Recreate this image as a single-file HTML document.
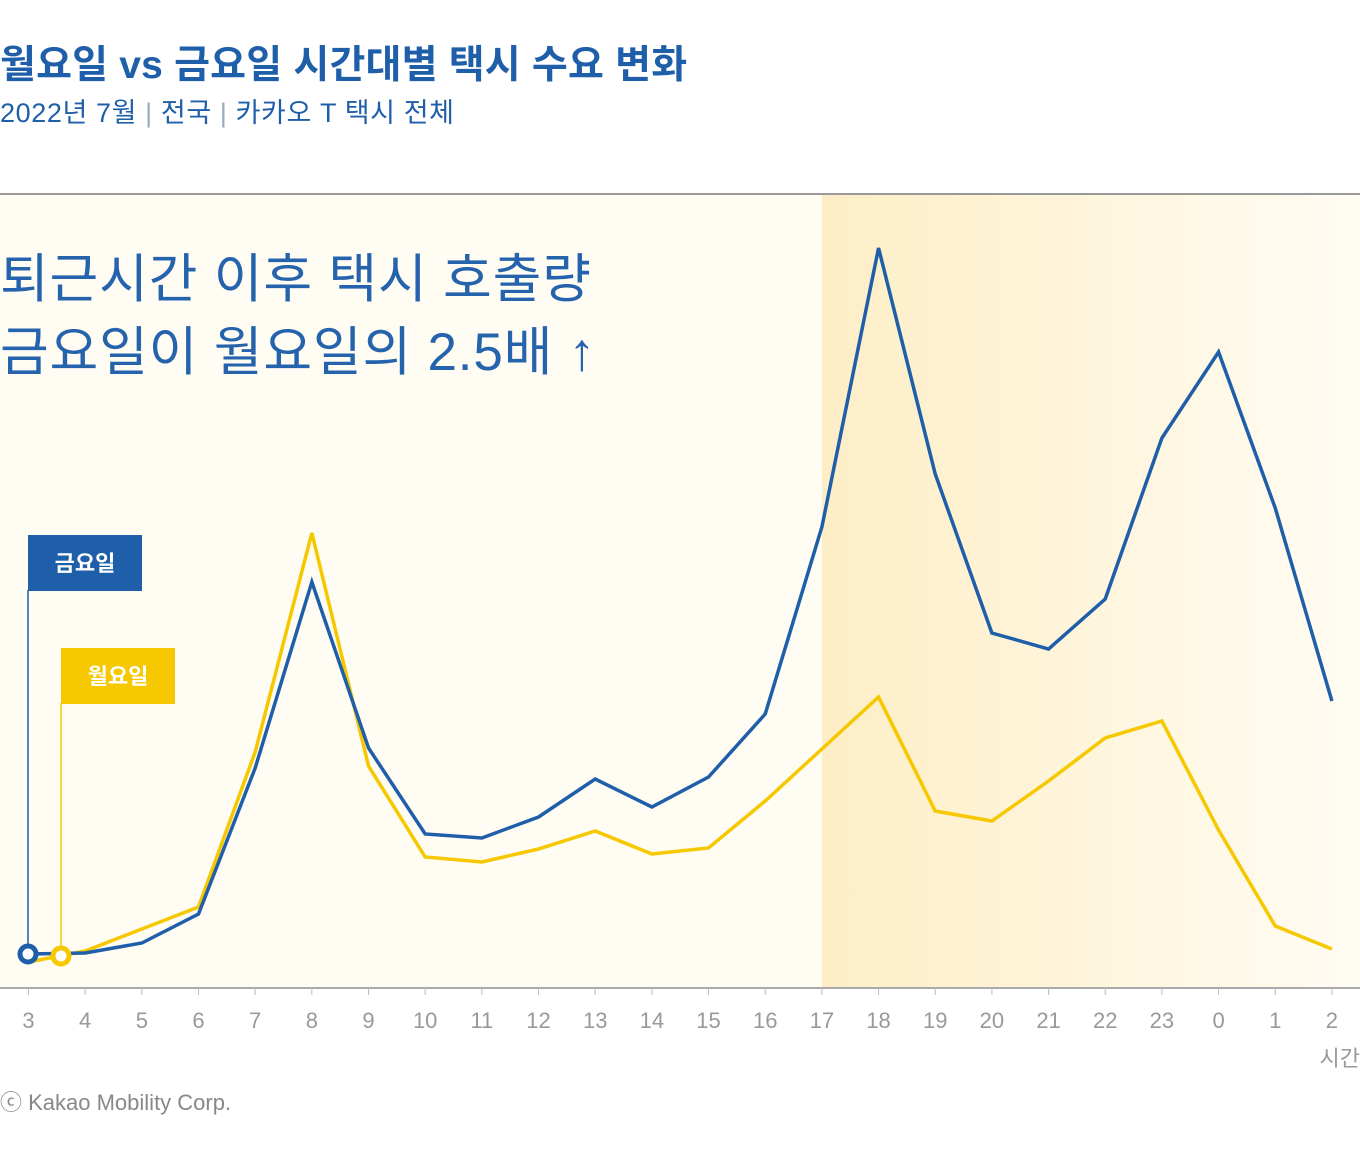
<!DOCTYPE html>
<html><head><meta charset="utf-8">
<style>
body{margin:0;width:1360px;height:1156px;background:#fff;overflow:hidden;font-family:"Liberation Sans","Noto Sans CJK KR",sans-serif;}
svg text{font-family:"Liberation Sans","Noto Sans CJK KR",sans-serif;}
</style></head><body>
<svg id="chart" width="1360" height="1156">
<defs>
<linearGradient id="hl" x1="0" x2="1" y1="0" y2="0">
<stop offset="0" stop-color="#fdeec6"/><stop offset="1" stop-color="#fffcf3"/>
</linearGradient>
</defs>
<text x="0" y="78" font-size="39" font-weight="bold" fill="#1f5ea8" letter-spacing="0.2">월요일 vs 금요일 시간대별 택시 수요 변화</text>
<text x="0" y="122" font-size="27" fill="#1f5ea8" letter-spacing="0.6">2022년 7월 <tspan fill="#9ab">|</tspan> 전국 <tspan fill="#9ab">|</tspan> 카카오 T 택시 전체</text>
<rect x="0" y="194" width="1360" height="794" fill="#fffcf3"/>
<rect x="822" y="195" width="538" height="793" fill="url(#hl)"/>
<line x1="0" y1="194" x2="1360" y2="194" stroke="#999" stroke-width="2"/>
<line x1="0" y1="988" x2="1360" y2="988" stroke="#aaa" stroke-width="2"/>
<text x="0" y="297" font-size="53" fill="#2563ad" letter-spacing="0.8">퇴근시간 이후 택시 호출량</text>
<text x="0" y="370" font-size="53" fill="#2563ad" letter-spacing="0.8">금요일이 월요일의 2.5배 ↑</text>
<g id="ticks"></g>
<text x="1360" y="1066" font-size="22" fill="#999" text-anchor="end">시간</text>
<text x="0" y="1110" font-size="22" fill="#888">ⓒ Kakao Mobility Corp.</text>
<g id="series"></g>
<line x1="28" y1="590" x2="28" y2="954" stroke="#1f5ea8" stroke-width="1.5"/>
<rect x="28" y="535" width="114" height="56" fill="#1f5ea8"/>
<text x="85" y="571" font-size="22" font-weight="bold" fill="#fff" text-anchor="middle">금요일</text>
<line x1="61" y1="703" x2="61" y2="956" stroke="#f5c800" stroke-width="1.5"/>
<rect x="61" y="648" width="114" height="56" fill="#f5c800"/>
<text x="118" y="684" font-size="22" font-weight="bold" fill="#fff" text-anchor="middle">월요일</text>
<circle cx="28" cy="954" r="8" fill="#fff" stroke="#1f5ea8" stroke-width="5"/>
<circle cx="61" cy="956" r="8" fill="#fff" stroke="#f5c800" stroke-width="5"/>
</svg>
<script>
const hours=["3","4","5","6","7","8","9","10","11","12","13","14","15","16","17","18","19","20","21","22","23","0","1","2"];
const friday=[34,35,45,74,220,406,240,154,150,171,209,181,211,274,461,740,514,355,339,389,550,636,480,287];
const monday=[26,37,59,81,236,455,222,131,126,139,157,134,140,187,239,291,177,167,207,250,267,158,62,39];
const NS="http://www.w3.org/2000/svg";
const xs=i=>28.5+i*56.67;
const ys=v=>988-v;
const tg=document.getElementById('ticks');
hours.forEach((h,i)=>{
 const l=document.createElementNS(NS,'line');
 l.setAttribute('x1',xs(i));l.setAttribute('x2',xs(i));l.setAttribute('y1',988);l.setAttribute('y2',995);
 l.setAttribute('stroke','#bbb');
 
 
 tg.appendChild(l);
 const t=document.createElementNS(NS,'text');
 t.setAttribute('x',xs(i));t.setAttribute('y',1028);t.setAttribute('font-size','22');t.setAttribute('fill','#999');t.setAttribute('text-anchor','middle');
 t.textContent=h;
 
 
 tg.appendChild(t);
});
const sg=document.getElementById('series');
function line(vals,color,name){
 const p=document.createElementNS(NS,'polyline');
 p.setAttribute('points',vals.map((v,i)=>xs(i)+','+ys(v)).join(' '));
 p.setAttribute('fill','none');p.setAttribute('stroke',color);p.setAttribute('stroke-width','3.5');p.setAttribute('stroke-linejoin','miter');
 
 
 sg.appendChild(p);
}
line(monday,'#f5c800','monday-line');
line(friday,'#1f5ea8','friday-line');
</script>
</body></html>
